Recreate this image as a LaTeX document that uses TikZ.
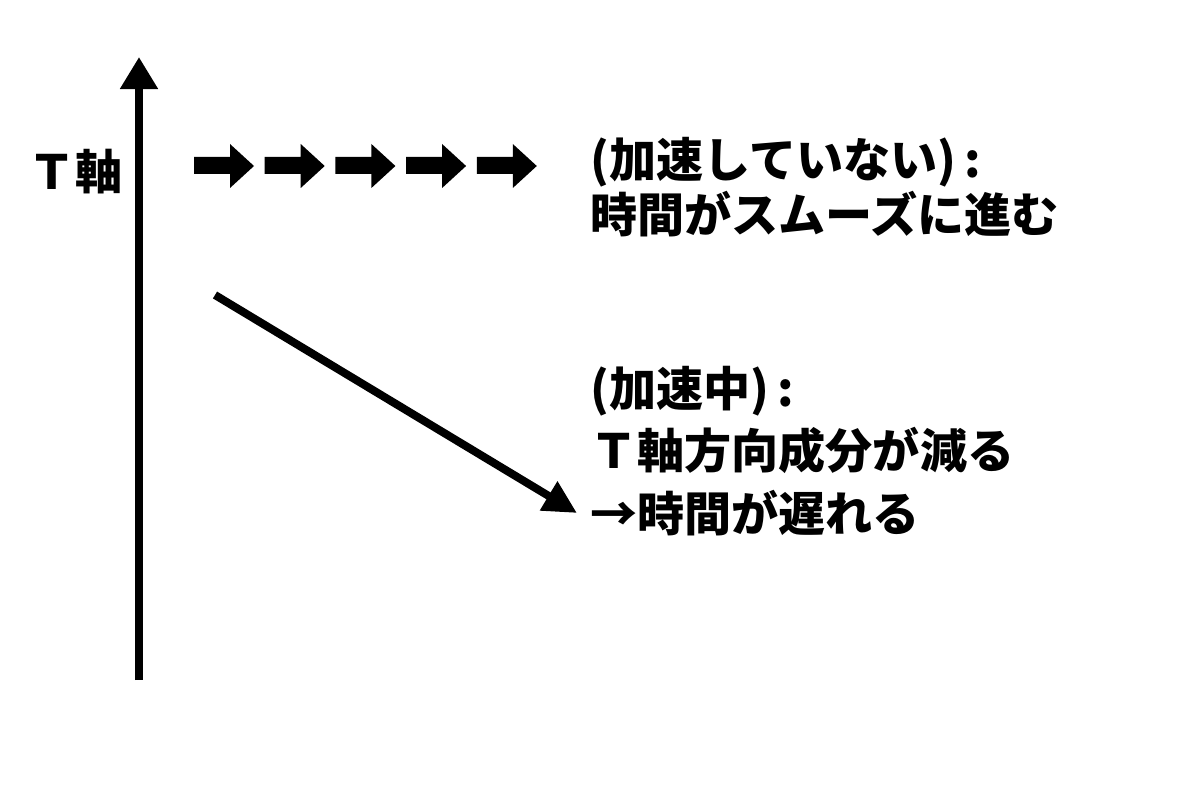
\documentclass[tikz,border=0pt]{standalone}
\usepackage{fontspec}
\newfontfamily\jpfont{Noto Sans CJK JP}
\usetikzlibrary{arrows.meta, positioning}

\begin{document}
\begin{tikzpicture}[x=0.025cm, y=-0.025cm]
% Styles
\tikzstyle{jptext} = [font=\jpfont\bfseries\fontsize{33.5}{40}\selectfont, inner sep=0pt, text height=29.5pt, text depth=4pt, anchor=base west]
\tikzstyle{axis} = [line width=0.2cm, -{Triangle[length=0.8cm, width=0.9cm]}]
\tikzstyle{slant} = [line width=0.2cm, -{Triangle[length=0.83cm, width=0.8cm]}]
\tikzstyle{blockarrow} = [fill=black]

\useasboundingbox (0,0) rectangle (1200,800);

% Nodes
\node (taxis) [jptext] at (28,190) {Ｔ軸};
\node (calm1) [jptext] at (590,178) {(加速していない)\,:};
\node (calm2) [jptext, below=0.175cm of calm1.south west, anchor=north west] {時間がスムーズに進む};
\node (accel1) [jptext] at (590,406) {(加速中)\,:};
\node (accel2) [jptext, below=0.375cm of accel1.south west, anchor=north west] {Ｔ軸方向成分が減る};
\node (accel3) [jptext, below=0.375cm of accel2.south west, anchor=north west] {→時間が遅れる};

% Coordinates
\coordinate (tbottom) at (139,680);
\coordinate (ttop) at (139,57);
\coordinate (sstart) at (215,295);
\coordinate (send) at (577,513);

% Arrows
\draw [axis] (tbottom) -- (ttop);
\draw [slant] (sstart) -- (send);
\foreach \x in {194,264.7,335.4,406.1,476.8}
  \fill [blockarrow] (\x,157) -- ++(36,0) -- ++(0,-13) -- ++(24,22) -- ++(-24,22) -- ++(0,-14) -- ++(-36,0) -- cycle;
\end{tikzpicture}
\end{document}
